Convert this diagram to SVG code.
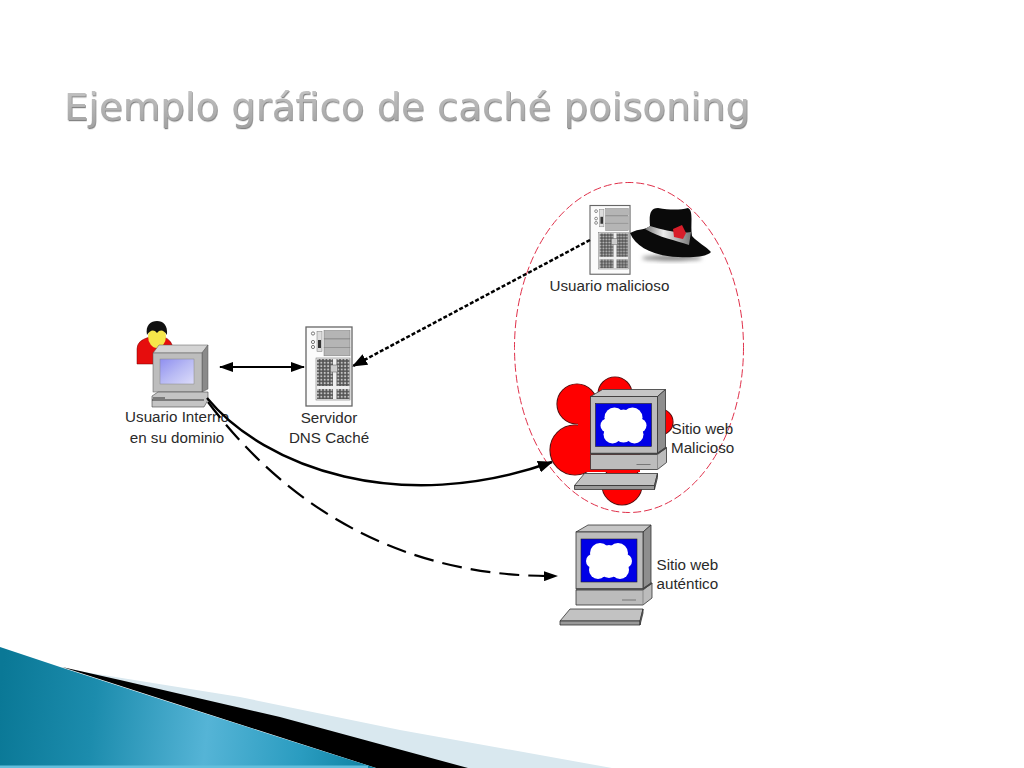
<svg xmlns="http://www.w3.org/2000/svg" width="1024" height="768" viewBox="0 0 1024 768">
<style>
.lbl{font-family:"Liberation Sans",Arial,sans-serif;font-size:15.2px;fill:#2a2a2a}
.ctr{text-anchor:middle}
.edge{fill:none;stroke:#000}
.o{stroke:#333;stroke-width:.8}
</style>
<defs>
<linearGradient id="teal" gradientUnits="userSpaceOnUse" x1="0" y1="690" x2="380" y2="730">
<stop offset="0" stop-color="#0a7896"/><stop offset=".25" stop-color="#1c8cad"/><stop offset=".55" stop-color="#55b4d6"/><stop offset=".8" stop-color="#2a9cc0"/><stop offset="1" stop-color="#0c7f9f"/>
</linearGradient>
<linearGradient id="scr" x1="0" y1="0" x2="1" y2="1">
<stop offset="0" stop-color="#8f8ff0"/><stop offset=".5" stop-color="#b8baf4"/><stop offset="1" stop-color="#dcdcfa"/>
</linearGradient>
<linearGradient id="ttl" x1="0" y1="0" x2="0" y2="1">
<stop offset="0" stop-color="#c6c6c6"/><stop offset="1" stop-color="#a0a0a0"/>
</linearGradient>
<linearGradient id="band" x1="0" y1="0" x2="1" y2="0">
<stop offset="0" stop-color="#777"/><stop offset=".4" stop-color="#eee"/><stop offset="1" stop-color="#777"/>
</linearGradient>
<filter id="sh" x="-5%" y="-20%" width="110%" height="140%"><feDropShadow dx=".8" dy="1.2" stdDeviation=".6" flood-color="#666" flood-opacity=".8"/></filter>
<filter id="blur" x="-20%" y="-50%" width="140%" height="200%"><feGaussianBlur stdDeviation="2"/></filter>
<pattern id="grille" width="3.4" height="3.4" patternUnits="userSpaceOnUse">
<rect width="3.4" height="3.4" fill="#555"/><circle cx="1.7" cy="1.7" r="1.05" fill="#c4c4c4"/>
</pattern>
<marker id="ah" markerWidth="14" markerHeight="10" refX="13" refY="5" orient="auto-start-reverse" markerUnits="userSpaceOnUse"><path d="M0 0L14 5L0 10Z" fill="#000"/></marker>
<marker id="ahd" markerWidth="15" markerHeight="12" refX="14" refY="6" orient="auto" markerUnits="userSpaceOnUse"><path d="M0 0L15 6L0 12Z" fill="#000"/></marker>
<g id="webpc">
<path class="o" d="M576 532L588 525H651L643 532Z" fill="#c6c6c6"/>
<path class="o" d="M643 532L651 525V583L643 589Z" fill="#8e8e8e"/>
<rect class="o" x="576" y="532" width="67" height="57" fill="#bcbcbc"/>
<rect x="581" y="539" width="56" height="43" fill="#0000e6" stroke="#222" stroke-width=".6"/>
<g fill="#fff"><circle cx="600" cy="553" r="10"/><circle cx="618" cy="553" r="10"/><circle cx="598" cy="570" r="9"/><circle cx="620" cy="570" r="9"/><circle cx="593" cy="561" r="7"/><circle cx="625" cy="561" r="7"/><circle cx="609" cy="555" r="10"/><circle cx="609" cy="568" r="10"/></g>
<path class="o" d="M576 590H643L652 583V598L643 605H576Z" fill="#bcbcbc"/>
<path d="M576 589H643L652 583" fill="none" stroke="#444" stroke-width="1.6"/>
<path d="M643 590V605" stroke="#777" stroke-width=".7"/>
<path d="M622 600H636" stroke="#777" stroke-width="1"/>
<path class="o" d="M560 621L570 609H643L640 621Z" fill="#c2c2c2"/>
<path class="o" d="M560 621H640V625H560Z" fill="#999"/>
<path class="o" d="M640 621L643 609V613L640 625Z" fill="#888"/>
</g>
<g id="srv">
<rect x="0" y="0" width="46" height="79" fill="#fbfbfb" stroke="#666" stroke-width="1.3"/>
<rect x="18" y="3.500" width="26" height="8.300" fill="#b5b5b5" stroke="#777" stroke-width=".5"/>
<rect x="18" y="12" width="26" height="8.300" fill="#b5b5b5" stroke="#777" stroke-width=".5"/>
<rect x="18" y="20.500" width="26" height="8.300" fill="#b5b5b5" stroke="#777" stroke-width=".5"/>
<rect x="11" y="4.500" width="5" height="20" fill="#ddd" stroke="#777" stroke-width=".5"/>
<rect x="12" y="13" width="3" height="8" fill="#333"/>
<circle cx="7" cy="6.500" r="1.600" fill="#fff" stroke="#444" stroke-width=".7"/>
<circle cx="7" cy="15" r="1.600" fill="#fff" stroke="#444" stroke-width=".7"/>
<circle cx="7" cy="20" r="1.600" fill="#fff" stroke="#444" stroke-width=".7"/>
<rect x="10" y="31" width="34" height="42" fill="#eee" stroke="#666" stroke-width=".5"/>
<rect x="11" y="32" width="16" height="27" fill="url(#grille)"/>
<rect x="30.500" y="32" width="13" height="27" fill="url(#grille)"/>
<rect x="11" y="62" width="16" height="10" fill="url(#grille)"/>
<rect x="30.500" y="62" width="13" height="10" fill="url(#grille)"/>
<rect x="24.500" y="38" width="7" height="7" fill="#ccc" stroke="#555" stroke-width=".5"/>
</g>
</defs>
<rect width="1024" height="768" fill="#fff"/>
<g id="footer">
<path d="M72 670L240 697L400 730L612 768H450Z" fill="#d9e8ef"/>
<path d="M62 667L120 680L280 717L468 768H376Z" fill="#000"/>
<path d="M0 647L60 667L172 703L376 768H0Z" fill="url(#teal)"/>
<rect x="0" y="765.500" width="368" height="2.500" fill="#62bfdd"/>
</g>
<text id="title" x="64" y="120" font-family="'DejaVu Sans',sans-serif" font-size="37" fill="url(#ttl)" filter="url(#sh)" textLength="686" lengthAdjust="spacingAndGlyphs">Ejemplo gráfico de caché poisoning</text>
<g id="zone"><ellipse cx="629" cy="347.500" rx="114.500" ry="165" fill="none" stroke="#e0304a" stroke-width="1" stroke-dasharray="8 3"/></g>
<g id="usuario-interno">
<path d="M137 364V349Q137 340 150 337H164Q172 340 173 349V364Z" fill="#e60d0d" stroke="#700" stroke-width=".5"/>
<ellipse cx="157" cy="336" rx="9" ry="12" fill="#f6e64a"/>
<path d="M147 335C145 325 151 321 157 321C163 321 168 325 167 335C164 330 160 329 157 333C154 329 150 330 147 335Z" fill="#111"/>
<path d="M153 353L159 345H208L202 353Z" fill="#d4d4d4" stroke="#555" stroke-width=".5"/>
<path d="M202 353L208 345V389L202 392Z" fill="#8a8a8a" stroke="#555" stroke-width=".5"/>
<rect x="153" y="353" width="49" height="39" fill="#bdbdbd" stroke="#555" stroke-width=".5"/>
<rect x="160" y="359" width="34" height="25" fill="url(#scr)" stroke="#888" stroke-width=".5"/>
<path d="M152 396L158 392H208V400L204 407H152Z" fill="#c4c4c4" stroke="#444" stroke-width=".6"/>
<path d="M152 400H204M153 398H165" stroke="#333" stroke-width="1"/>
<text class="lbl ctr" x="177" y="422">Usuario Interno</text>
<text class="lbl ctr" x="177" y="443">en su dominio</text>
</g>
<g id="servidor-dns">
<use href="#srv" x="306" y="327"/>
<text class="lbl ctr" x="329" y="423">Servidor</text>
<text class="lbl ctr" x="329" y="443">DNS Caché</text>
</g>
<g id="usuario-malicioso">
<use href="#srv" transform="translate(590 205.500) scale(.87)"/>
<ellipse cx="672" cy="258" rx="30" ry="3" fill="#888" filter="url(#blur)"/>
<path d="M630 233C640 228 646 230 650 226C649 215 650 208 658 208C670 210 680 210 688 208C694 211 690 225 692 236C698 243 706 246 711 252C708 256 695 258 678 257C655 256 636 248 630 233Z" fill="#0a0a0a"/>
<path d="M645 229C660 238 675 240 689 245L691 232C678 234 664 230 650 226Z" fill="url(#band)"/>
<path d="M673 229L682 225L686 233L683 239L674 237Z" fill="#d81e2a"/>
<text class="lbl" x="549.500" y="291">Usuario malicioso</text>
</g>
<g id="sitio-malicioso">
<g fill="#f00" stroke="#5a1010" stroke-width="1.2">
<circle cx="577" cy="404" r="20"/><circle cx="615" cy="394" r="17"/><circle cx="575" cy="450" r="25"/><circle cx="622" cy="485" r="20"/><circle cx="660" cy="422" r="13"/>
</g>
<g fill="#f00">
<circle cx="577" cy="404" r="19.400"/><circle cx="615" cy="394" r="16.400"/><circle cx="575" cy="450" r="24.400"/><circle cx="622" cy="485" r="19.400"/><circle cx="660" cy="422" r="12.400"/><rect x="578" y="400" width="62" height="72"/>
</g>
<use href="#webpc" transform="translate(14.500 -135.500)"/>
<text class="lbl" x="671.500" y="434">Sitio web</text>
<text class="lbl" x="671" y="453">Malicioso</text>
</g>
<g id="sitio-autentico">
<use href="#webpc"/>
<text class="lbl" x="656.500" y="570">Sitio web</text>
<text class="lbl" x="656.500" y="589">auténtico</text>
</g>
<g id="connectors">
<path class="edge" stroke-width="2.200" d="M220 367H304" marker-start="url(#ah)" marker-end="url(#ah)"/>
<path class="edge" stroke-width="2.500" stroke-dasharray="4 2" d="M590 240L353 366" marker-end="url(#ahd)"/>
<path class="edge" stroke-width="2.400" d="M207 398C265 468 400 516 552 462" marker-end="url(#ahd)"/>
<path class="edge" stroke-width="2.200" stroke-dasharray="20 9" d="M208 402C285 505 400 578 557 576" marker-end="url(#ah)"/>
</g>
</svg>
